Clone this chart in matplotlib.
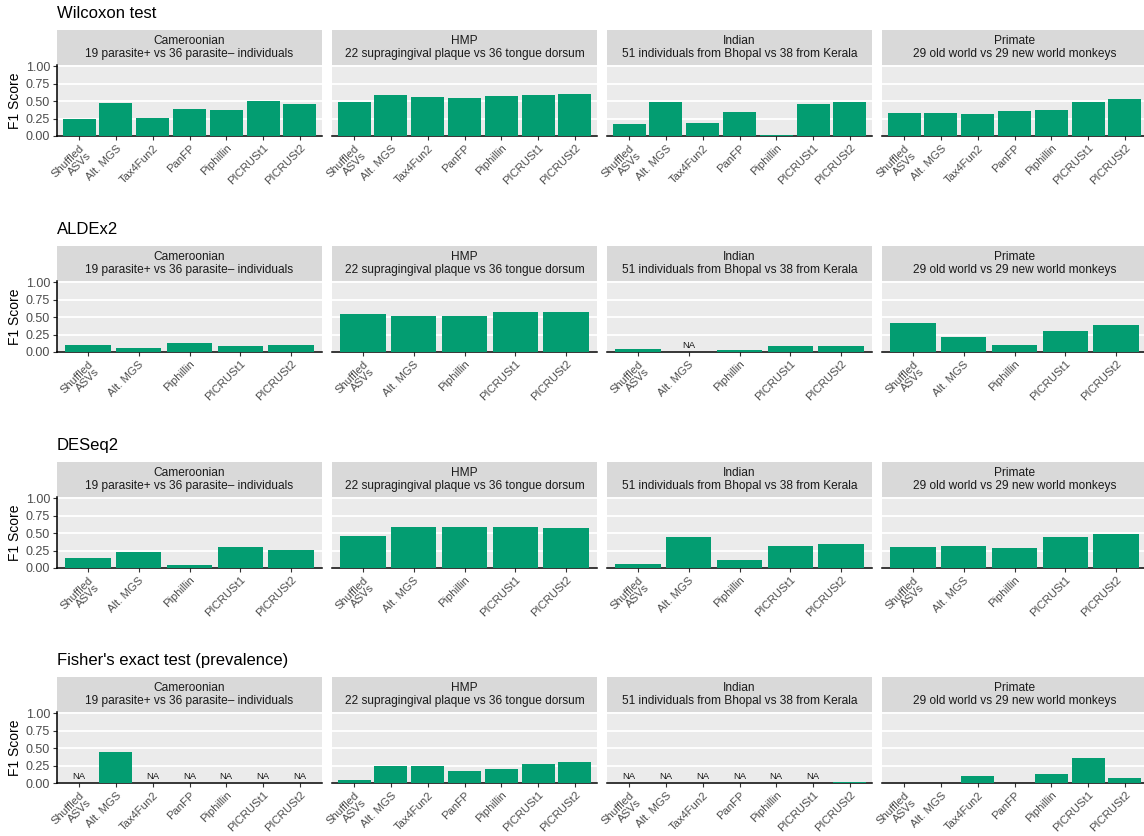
import numpy as np
import matplotlib
matplotlib.use("Agg")
import matplotlib.pyplot as plt

plt.rcParams["font.family"] = ["Liberation Sans", "DejaVu Sans"]

NA = np.nan

# Methods and panels
methods_all = ["Shuffled\nASVs", "Alt. MGS", "Tax4Fun2", "PanFP", "Piphillin", "PICRUSt1", "PICRUSt2"]
methods_sub = ["Shuffled\nASVs", "Alt. MGS", "Piphillin", "PICRUSt1", "PICRUSt2"]

datasets = ["Cameroonian", "HMP", "Indian", "Primate"]
dataset_desc = [
    "19 parasite+ vs 36 parasite\u2013 individuals",
    "22 supragingival plaque vs 36 tongue dorsum",
    "51 individuals from Bhopal vs 38 from Kerala",
    "29 old world vs 29 new world monkeys",
]

tests = ["Wilcoxon test", "ALDEx2", "DESeq2", "Fisher's exact test (prevalence)"]

# F1 scores per test, one list per dataset (NaN = not available)
wilcoxon_f1 = [
    [0.24, 0.48, 0.265, 0.39, 0.38, 0.50, 0.465],
    [0.485, 0.59, 0.56, 0.54, 0.58, 0.595, 0.60],
    [0.17, 0.485, 0.19, 0.345, 0.015, 0.455, 0.485],
    [0.33, 0.335, 0.31, 0.365, 0.375, 0.485, 0.53],
]
aldex2_f1 = [
    [0.10, 0.06, 0.135, 0.08, 0.095],
    [0.545, 0.515, 0.52, 0.57, 0.575],
    [0.045, NA, 0.03, 0.085, 0.08],
    [0.415, 0.21, 0.105, 0.30, 0.385],
]
deseq2_f1 = [
    [0.15, 0.235, 0.04, 0.30, 0.265],
    [0.455, 0.59, 0.585, 0.585, 0.577],
    [0.062, 0.45, 0.115, 0.32, 0.35],
    [0.30, 0.32, 0.29, 0.44, 0.495],
]
fisher_f1 = [
    [NA, 0.45, NA, NA, NA, NA, NA],
    [0.048, 0.245, 0.25, 0.173, 0.207, 0.28, 0.30],
    [NA, NA, NA, NA, NA, NA, 0.02],
    [0.0, 0.0, 0.105, 0.0, 0.125, 0.36, 0.067],
]

test_values = [wilcoxon_f1, aldex2_f1, deseq2_f1, fisher_f1]
test_methods = [methods_all, methods_sub, methods_sub, methods_all]

yticks = [0.0, 0.25, 0.5, 0.75, 1.0]
ytick_labels = ["0.00", "0.25", "0.50", "0.75", "1.00"]

BAR = "#039D71"
PANEL_BG = "#EBEBEB"
STRIP_BG = "#D9D9D9"
TICK_TXT = "#4D4D4D"

W, H = 1144, 836
fig = plt.figure(figsize=(W / 100, H / 100), dpi=100)


def rect(x0, y0, x1, y1):
    # pixel box (top-left origin) -> figure fraction
    return [x0 / W, 1 - y1 / H, (x1 - x0) / W, (y1 - y0) / H]


panel_left = 57
panel_w = 265
panel_gap = 10
strip_h = 35
panel_h = 71
row_tops = [30, 246, 462, 677]

for r, test in enumerate(tests):
    top = row_tops[r]
    fig.text(panel_left / W, 1 - (top - 16) / H, test, fontsize=12,
             ha="left", va="center", color="black")
    methods = test_methods[r]
    for c, ds in enumerate(datasets):
        x0 = panel_left + c * (panel_w + panel_gap)
        x1 = x0 + panel_w
        # strip
        sax = fig.add_axes(rect(x0, top, x1, top + strip_h))
        sax.set_facecolor(STRIP_BG)
        sax.set_xticks([])
        sax.set_yticks([])
        for s in sax.spines.values():
            s.set_visible(False)
        sax.text(0.5, 0.5, f"{ds}\n{dataset_desc[c]}", ha="center", va="center",
                 fontsize=8.6, color="#1A1A1A", linespacing=1.1,
                 transform=sax.transAxes)

        # panel
        ax = fig.add_axes(rect(x0, top + strip_h, x1, top + strip_h + panel_h))
        ax.set_facecolor(PANEL_BG)
        vals = np.array(test_values[r][c], dtype=float)
        xs = np.arange(1, len(methods) + 1)
        ax.bar(xs, np.nan_to_num(vals), width=0.9, color=BAR, zorder=3)
        for xi, v in zip(xs, vals):
            if np.isnan(v):
                ax.text(xi, 0.03, "NA", ha="center", va="bottom",
                        fontsize=6.8, color="#1A1A1A", zorder=4)
        ax.set_xlim(0.4, len(methods) + 0.6)
        ax.set_ylim(0, 1.02)
        ax.set_yticks(yticks)
        ax.yaxis.grid(True, color="white", linewidth=1.3, zorder=0)
        ax.set_axisbelow(True)
        ax.set_xticks(xs)
        ax.set_xticklabels(methods, rotation=45, ha="right", va="top",
                           rotation_mode="anchor", multialignment="right",
                           fontsize=8.1, color=TICK_TXT, linespacing=1.0)
        ax.tick_params(axis="x", length=3, width=0.8, color="#333333", pad=2)
        for s in ["top", "right"]:
            ax.spines[s].set_visible(False)
        ax.spines["bottom"].set_color("black")
        ax.spines["bottom"].set_linewidth(1.1)
        if c == 0:
            ax.spines["left"].set_color("black")
            ax.spines["left"].set_linewidth(1.1)
            ax.set_yticklabels(ytick_labels, fontsize=9, color=TICK_TXT)
            ax.tick_params(axis="y", length=3, width=0.8, color="#333333", pad=2)
            ax.set_ylabel("F1 Score", fontsize=10, color="black", labelpad=3)
        else:
            ax.spines["left"].set_visible(False)
            ax.tick_params(axis="y", length=0, labelleft=False)

fig.savefig("out.png", dpi=100)
